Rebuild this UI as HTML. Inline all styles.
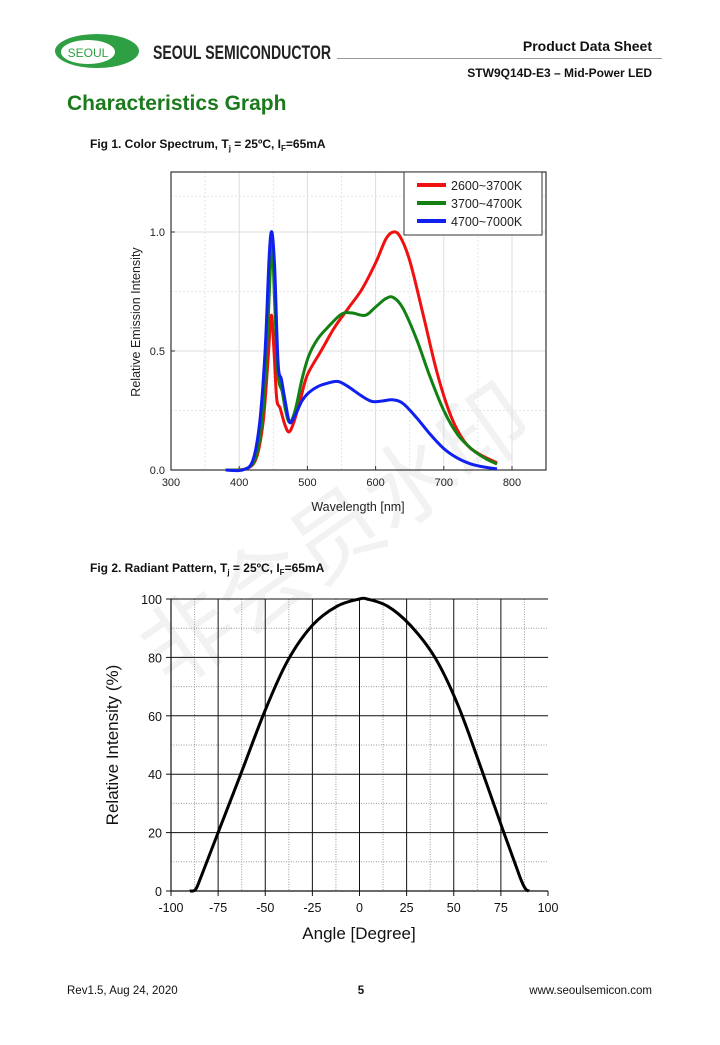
<!DOCTYPE html>
<html><head><meta charset="utf-8"><style>
body{margin:0;background:#fff;width:720px;height:1040px;overflow:hidden;font-family:"Liberation Sans",Arial,sans-serif}
</style></head><body>
<svg id="s" width="720" height="1040" xmlns="http://www.w3.org/2000/svg" font-family="Liberation Sans, Arial, sans-serif">
<!-- header -->
<ellipse cx="97" cy="51" rx="42" ry="17" fill="#2ea043"/>
<ellipse cx="88" cy="52" rx="27" ry="12" fill="#fff"/>
<text x="88" y="57" font-size="12" fill="#2ea043" text-anchor="middle">SEOUL</text>
<text x="153" y="59" font-size="19" font-weight="bold" fill="#222" textLength="178" lengthAdjust="spacingAndGlyphs">SEOUL SEMICONDUCTOR</text>
<line x1="337" y1="58.5" x2="662" y2="58.5" stroke="#999" stroke-width="1"/>
<text x="652" y="51" font-size="14" font-weight="bold" text-anchor="end" fill="#111">Product Data Sheet</text>
<text x="652" y="77" font-size="12" font-weight="bold" text-anchor="end" fill="#111">STW9Q14D-E3 – Mid-Power LED</text>
<text x="67" y="110" font-size="21" font-weight="bold" fill="#1b7a1b">Characteristics Graph</text>
<text x="90" y="148" font-size="12" font-weight="bold" fill="#111">Fig 1. Color Spectrum, T<tspan font-size="8" dy="3">j</tspan><tspan dy="-3"> = 25ºC,  I</tspan><tspan font-size="8" dy="3">F</tspan><tspan dy="-3">=65mA</tspan></text>
<text x="90" y="572" font-size="12" font-weight="bold" fill="#111">Fig 2. Radiant Pattern, T<tspan font-size="8" dy="3">j</tspan><tspan dy="-3"> = 25ºC,  I</tspan><tspan font-size="8" dy="3">F</tspan><tspan dy="-3">=65mA</tspan></text>
<!-- footer -->
<text x="67" y="994" font-size="11.5" fill="#111">Rev1.5, Aug 24, 2020</text>
<text x="361" y="994" font-size="11.5" font-weight="bold" fill="#111" text-anchor="middle">5</text>
<text x="652" y="994" font-size="11.5" fill="#111" text-anchor="end">www.seoulsemicon.com</text>
<!-- watermark -->
<text x="0" y="0" font-size="90" fill="#000" fill-opacity="0.05" font-family="Noto Sans CJK SC, sans-serif" transform="translate(170,690) rotate(-35)">非会员水印</text>
<g id="c1"></g><g id="c2"></g>
</svg>
<script>
var NS="http://www.w3.org/2000/svg";
function el(p,t,a,txt){var e=document.createElementNS(NS,t);for(var k in a)e.setAttribute(k,a[k]);if(txt!=null)e.textContent=txt;p.appendChild(e);return e;}
function smooth(pts){var d="M"+pts[0][0]+","+pts[0][1];for(var i=0;i<pts.length-1;i++){var p0=pts[i-1]||pts[i],p1=pts[i],p2=pts[i+1],p3=pts[i+2]||p2;
var c1=[p1[0]+(p2[0]-p0[0])/6,p1[1]+(p2[1]-p0[1])/6],c2=[p2[0]-(p3[0]-p1[0])/6,p2[1]-(p3[1]-p1[1])/6];
d+=" C"+c1[0].toFixed(1)+","+c1[1].toFixed(1)+" "+c2[0].toFixed(1)+","+c2[1].toFixed(1)+" "+p2[0].toFixed(1)+","+p2[1].toFixed(1);}return d;}
// chart1
var g=document.getElementById("c1");
var X=function(l){return 171+(l-300)*0.682},Y=function(v){return 470-238*v};
[350,450,550,650,750].forEach(function(l){el(g,"line",{x1:X(l),x2:X(l),y1:172,y2:470,stroke:"#e6e6e6","stroke-dasharray":"2,2"})});
[400,500,600,700,800].forEach(function(l){el(g,"line",{x1:X(l),x2:X(l),y1:172,y2:470,stroke:"#ddd"})});
[0.25,0.75,1.15].forEach(function(v){el(g,"line",{x1:171,x2:546,y1:Y(v),y2:Y(v),stroke:"#e6e6e6","stroke-dasharray":"2,2"})});
[0.5,1.0].forEach(function(v){el(g,"line",{x1:171,x2:546,y1:Y(v),y2:Y(v),stroke:"#ddd"})});
el(g,"rect",{x:171,y:172,width:375,height:298,fill:"none",stroke:"#333","stroke-width":1.2});
[300,400,500,600,700,800].forEach(function(l){el(g,"line",{x1:X(l),x2:X(l),y1:470,y2:466,stroke:"#333"});el(g,"text",{x:X(l),y:486,"font-size":11,"text-anchor":"middle",fill:"#222"},l)});
[[0,"0.0"],[0.5,"0.5"],[1,"1.0"]].forEach(function(v){el(g,"line",{x1:171,x2:175,y1:Y(v[0]),y2:Y(v[0]),stroke:"#333"});el(g,"text",{x:165,y:Y(v[0])+4,"font-size":11,"text-anchor":"end",fill:"#222"},v[1])});
el(g,"text",{x:358,y:511,"font-size":12.5,"text-anchor":"middle",fill:"#222"},"Wavelength [nm]");
el(g,"text",{x:0,y:0,"font-size":12.5,"text-anchor":"middle",fill:"#222",transform:"translate(140,322) rotate(-90)"},"Relative Emission Intensity");
var red=[[380,0],[410,0.005],[425,0.05],[435,0.2],[442,0.45],[447,0.65],[451,0.5],[455,0.3],[460,0.26],[467,0.19],[473,0.16],[480,0.2],[490,0.3],[500,0.4],[520,0.5],[540,0.6],[560,0.68],[580,0.76],[600,0.87],[615,0.97],[626,1.0],[636,0.98],[650,0.88],[670,0.65],[690,0.41],[710,0.23],[730,0.12],[750,0.07],[778,0.03]];
var green=[[380,0],[410,0.005],[425,0.06],[435,0.25],[442,0.6],[448,0.95],[452,0.7],[457,0.4],[463,0.33],[468,0.25],[474,0.2],[482,0.25],[492,0.38],[502,0.48],[515,0.55],[530,0.6],[550,0.655],[565,0.66],[585,0.65],[600,0.685],[615,0.72],[626,0.725],[640,0.68],[660,0.55],[680,0.39],[700,0.25],[720,0.15],[740,0.09],[760,0.05],[778,0.025]];
var blue=[[380,0],[405,0],[420,0.04],[430,0.2],[438,0.5],[444,0.9],[448,1.0],[452,0.85],[457,0.45],[462,0.38],[468,0.28],[474,0.2],[482,0.23],[492,0.29],[502,0.325],[515,0.35],[530,0.365],[545,0.372],[560,0.35],[580,0.31],[595,0.288],[610,0.29],[625,0.295],[640,0.28],[660,0.22],[680,0.15],[700,0.09],[720,0.05],[740,0.025],[760,0.012],[778,0.005]];
[[red,"#f01010"],[green,"#138013"],[blue,"#1020f0"]].forEach(function(s){el(g,"path",{d:smooth(s[0].map(function(p){return[X(p[0]),Y(p[1])]})),fill:"none",stroke:s[1],"stroke-width":3,"stroke-linejoin":"round"})});
el(g,"rect",{x:404,y:172,width:138,height:63,fill:"#fff",stroke:"#333"});
[["2600~3700K","#f01010"],["3700~4700K","#138013"],["4700~7000K","#1020f0"]].forEach(function(s,i){var y=185+i*18;el(g,"line",{x1:417,x2:446,y1:y,y2:y,stroke:s[1],"stroke-width":4});el(g,"text",{x:451,y:y+5,"font-size":12.5,fill:"#222"},s[0])});
// chart2
g=document.getElementById("c2");
var AX=function(a){return 359.5+a*1.885},AY=function(v){return 891-2.92*v};
for(var a=-87.5;a<100;a+=12.5){if(a%25!=0)el(g,"line",{x1:AX(a),x2:AX(a),y1:599,y2:891,stroke:"#999","stroke-dasharray":"1,1.5"})}
for(var v=10;v<100;v+=20)el(g,"line",{x1:171,x2:548,y1:AY(v),y2:AY(v),stroke:"#999","stroke-dasharray":"1,1.5"});
for(a=-75;a<100;a+=25)el(g,"line",{x1:AX(a),x2:AX(a),y1:599,y2:891,stroke:"#111","stroke-width":1});
for(v=20;v<=100;v+=20)el(g,"line",{x1:171,x2:548,y1:AY(v),y2:AY(v),stroke:"#111","stroke-width":1});
el(g,"line",{x1:171,x2:171,y1:599,y2:891,stroke:"#111","stroke-width":1.2});
el(g,"line",{x1:171,x2:548,y1:891,y2:891,stroke:"#111","stroke-width":1.2});
for(a=-100;a<=100;a+=25){el(g,"line",{x1:AX(a),x2:AX(a),y1:891,y2:896,stroke:"#111"});el(g,"text",{x:AX(a),y:912,"font-size":12.5,"text-anchor":"middle",fill:"#111"},a)}
for(v=0;v<=100;v+=20){el(g,"line",{x1:166,x2:171,y1:AY(v),y2:AY(v),stroke:"#111"});el(g,"text",{x:162,y:AY(v)+5,"font-size":12.5,"text-anchor":"end",fill:"#111"},v)}
el(g,"text",{x:359,y:939,"font-size":17,"text-anchor":"middle",fill:"#111"},"Angle [Degree]");
el(g,"text",{x:0,y:0,"font-size":17,"text-anchor":"middle",fill:"#111",transform:"translate(118,745) rotate(-90)"},"Relative Intensity (%)");
var rp=[[-90,0],[-87,0.5],[-84,5],[-75,20],[-63,40],[-50,62],[-38,79],[-25,91],[-12,97.5],[0,100],[4,100],[15,97.5],[27,91],[40,80],[52,64],[64,43],[76,21],[85,5],[88,0.8],[90,0]];
el(g,"path",{d:smooth(rp.map(function(p){return[AX(p[0]),AY(p[1])]})),fill:"none",stroke:"#000","stroke-width":3});
</script>
</body></html>
